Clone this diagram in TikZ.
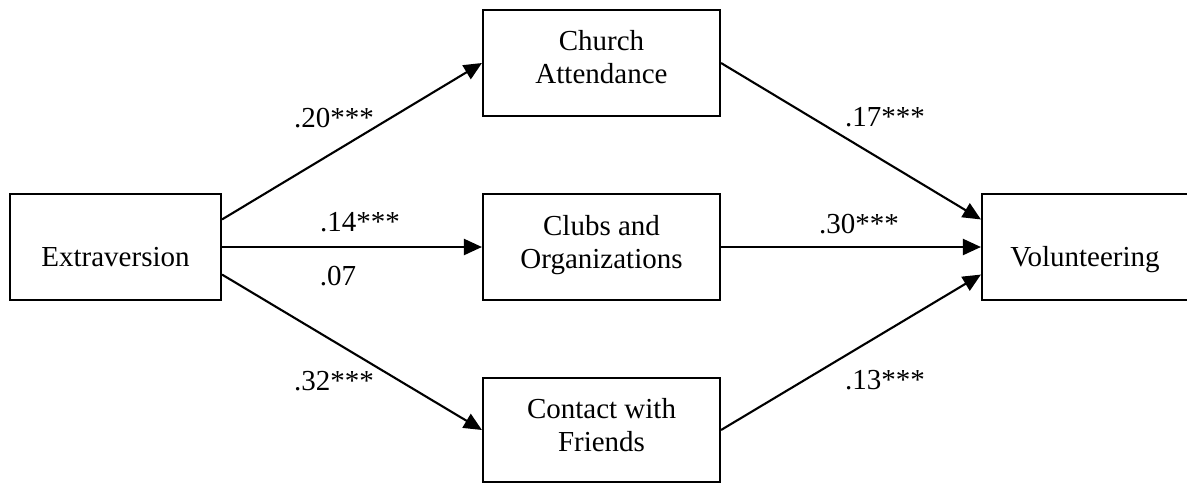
\documentclass[tikz,border=0pt]{standalone}
\usepackage{fontspec}
\setmainfont{Liberation Serif}
\usetikzlibrary{arrows.meta,calc}
\newcommand\boxtext[2]{\raisebox{#1}[\height][\depth]{\begin{tabular}{@{}c@{}}#2\end{tabular}}}
\begin{document}
\begin{tikzpicture}[x=1pt,y=-1pt,
  bigfont/.style={font=\fontsize{29}{33}\selectfont},
  varbox/.style={bigfont,draw,line width=2.1pt,inner sep=0pt,minimum height=106pt,anchor=center},
  lbl/.style={bigfont,inner sep=0pt,anchor=center},
  conn/.style={line width=2.1pt,-{Triangle[length=18pt,width=16pt]}}]
\useasboundingbox (0,0) rectangle (1187,483);
\node[varbox,minimum width=211pt] (ext) at (115.5,247) {\boxtext{-13pt}{Extraversion}};
\node[varbox,minimum width=237pt] (church) at (601.5,63) {\boxtext{3pt}{Church\\Attendance}};
\node[varbox,minimum width=237pt] (clubs) at (601.5,247) {\boxtext{2pt}{Clubs and\\Organizations}};
\node[varbox,minimum width=237pt,minimum height=104pt] (contact) at (601.5,430) {\boxtext{2pt}{Contact with\\Friends}};
\node[varbox,minimum width=206pt] (vol) at (1085,247) {\boxtext{-13pt}{Volunteering}};
\coordinate (e1) at ($(ext.north east)!0.245!(ext.south east)$);
\coordinate (e3) at ($(ext.north east)!0.755!(ext.south east)$);
\coordinate (v1) at ($(vol.north west)!0.245!(vol.south west)$);
\coordinate (v3) at ($(vol.north west)!0.755!(vol.south west)$);
\draw[conn] (e1) -- (church.west);
\draw[conn] (ext.east) -- (clubs.west);
\draw[conn] (e3) -- (contact.west);
\draw[conn] (church.east) -- (v1);
\draw[conn] (clubs.east) -- (vol.west);
\draw[conn] (contact.east) -- (v3);
\node[lbl] (l20) at (334,118) {.20***};
\node[lbl] (l14) at (360,222) {.14***};
\node[lbl] (l07) at (338,276) {.07};
\node[lbl] (l32) at (334,381) {.32***};
\node[lbl] (l17) at (885,117) {.17***};
\node[lbl] (l30) at (859,224) {.30***};
\node[lbl] (l13) at (885,380) {.13***};
\end{tikzpicture}
\end{document}
